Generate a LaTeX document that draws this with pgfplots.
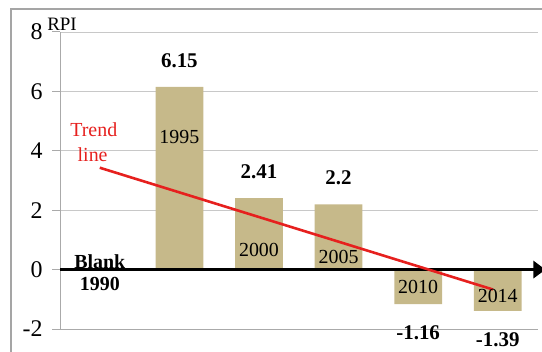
\documentclass[border=0pt]{standalone}
\usepackage{fontspec}
\setmainfont{Liberation Serif}
\usepackage{pgfplots}
\pgfplotsset{compat=1.18}
\usetikzlibrary{arrows.meta}

\definecolor{barfill}{RGB}{198,185,138}
\definecolor{trendred}{RGB}{230,32,30}
\definecolor{gridgray}{RGB}{200,200,200}
\definecolor{axisgray}{RGB}{170,170,170}
\definecolor{framegray}{RGB}{165,165,165}

\begin{document}
\begin{tikzpicture}[x=1bp,y=1bp]
\path[use as bounding box] (0,0) rectangle (542,351);
\clip (0,0) rectangle (542,351);
% outer chart frame
\draw[framegray, line width=1.6bp] (11,-30) rectangle (620,342);
\node[font=\fontsize{19}{19}\selectfont, inner sep=0pt] at (62,327) {RPI};
\begin{axis}[
  at={(60bp,22bp)}, anchor=south west,
  scale only axis, width=477.5bp, height=297bp,
  xmin=-0.5, xmax=5.5, ymin=-2, ymax=8,
  axis lines*=left,
  axis line style={axisgray, line width=1bp, -},
  xtick=\empty,
  ytick={-2,0,2,4,6,8},
  ymajorgrids, grid style={gridgray, line width=0.9bp},
  tick style={axisgray, line width=1bp},
  tick align=outside, major tick length=8bp,
  yticklabel style={font=\fontsize{24}{24}\selectfont, xshift=-6bp},
  /pgf/number format/assume math mode=true,
  clip=false,
]
% positive bars with values above
\addplot[ybar, bar width=0.6, fill=barfill, draw=none,
  nodes near coords,
  every node near coord/.append style={font=\bfseries\fontsize{21}{21}\selectfont, black, anchor=south, yshift=15.5bp}]
  coordinates {(1,6.15) (2,2.41) (3,2.2)};
% negative bars with values below
\addplot[ybar, bar width=0.6, fill=barfill, draw=none,
  nodes near coords,
  every node near coord/.append style={font=\bfseries\fontsize{21}{21}\selectfont, black, anchor=north, yshift=-18.5bp}]
  coordinates {(4,-1.16) (5,-1.39)};
% zero line with arrow
\addplot[black, line width=2.8bp, -{Triangle[length=12bp, width=17bp]}]
  coordinates {(-0.5,0) (5.6,0)};
% trend line
\addplot[trendred, line width=2.6bp] coordinates {(0,3.43) (4.94,-0.67)};

% year labels
\node[font=\fontsize{20}{20}\selectfont] at (axis cs:1,4.48) {1995};
\node[font=\fontsize{20}{20}\selectfont] at (axis cs:2,0.67) {2000};
\node[font=\fontsize{20}{20}\selectfont] at (axis cs:3,0.44) {2005};
\node[font=\fontsize{20}{20}\selectfont] at (axis cs:4,-0.57) {2010};
\node[font=\fontsize{20}{20}\selectfont] at (axis cs:5,-0.9) {2014};
\node[font=\bfseries\fontsize{20}{20}\selectfont] at (axis cs:0,0.27) {Blank};
\node[font=\bfseries\fontsize{20}{20}\selectfont] at (axis cs:0,-0.5) {1990};
\node[font=\fontsize{20}{20}\selectfont, text=trendred] at (axis cs:-0.075,4.71) {Trend};
\node[font=\fontsize{20}{20}\selectfont, text=trendred] at (axis cs:-0.09,3.87) {line};
\end{axis}
\end{tikzpicture}
\end{document}
